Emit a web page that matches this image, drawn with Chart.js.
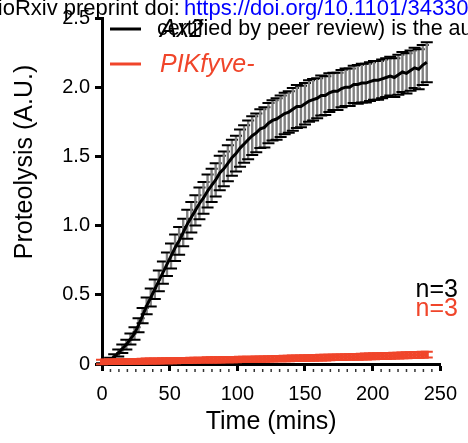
<!DOCTYPE html>
<html>
<head>
    <title>Proteolysis</title>
    <script src="https://cdn.jsdelivr.net/npm/chart.js"></script>
    <style>
        body {margin: 0; overflow: hidden; background: #fff;}
        #wrap {position: relative; width: 468px; height: 443px; overflow: hidden;}
        #chart {position: absolute; left: 0; top: 0;}
        .stamp {position: absolute; white-space: nowrap; font-family: "Liberation Sans", Arial, sans-serif; line-height: 20px; color: #000;}
        .stamp a {color: #0000ff; text-decoration: none;}
    </style>
</head>
<body>
<div id="wrap">
    <canvas id="chart" width="468" height="443"></canvas>
    <div class="stamp" style="right:288px; top:-2px; font-size:22px;">bioRxiv preprint doi:</div>
    <div class="stamp" style="left:184px; top:-2px; font-size:22px;"><a>https://doi.org/10.1101/343301</a></div>
    <div class="stamp" style="left:157px; top:18px; font-size:21.5px;">certified by peer review) is the author/funder</div>
</div>

<script>
    // time points (mins)
    var times = [0, 3, 6, 9, 12, 15, 18, 21, 24, 27, 30, 33, 36, 39, 42, 45, 48, 51, 54, 57,
        60, 63, 66, 69, 72, 75, 78, 81, 84, 87, 90, 93, 96, 99, 102, 105, 108, 111, 114, 117,
        120, 123, 126, 129, 132, 135, 138, 141, 144, 147, 150, 153, 156, 159, 162, 165, 168, 171, 174, 177,
        180, 183, 186, 189, 192, 195, 198, 201, 204, 207, 210, 213, 216, 219, 222, 225, 228, 231, 234, 237, 240];

    // Ax2 mean and SEM
    var ax2Mean = [0.00, 0.01, 0.03, 0.05, 0.08, 0.11, 0.14, 0.18, 0.22, 0.28, 0.35, 0.42, 0.48, 0.54, 0.60, 0.66, 0.72, 0.78, 0.84, 0.89,
        0.95, 1.01, 1.06, 1.11, 1.16, 1.20, 1.25, 1.29, 1.33, 1.38, 1.41, 1.45, 1.49, 1.52, 1.56, 1.59, 1.62, 1.65, 1.67, 1.70,
        1.71, 1.74, 1.76, 1.77, 1.79, 1.81, 1.82, 1.84, 1.86, 1.86, 1.88, 1.90, 1.91, 1.92, 1.94, 1.94, 1.96, 1.97, 1.97, 1.99,
        2.00, 2.00, 2.02, 2.02, 2.03, 2.03, 2.04, 2.05, 2.05, 2.06, 2.07, 2.08, 2.07, 2.09, 2.11, 2.10, 2.12, 2.14, 2.13, 2.16, 2.18];
    var ax2Err = [0.005, 0.01, 0.015, 0.02, 0.025, 0.03, 0.035, 0.04, 0.045, 0.05, 0.055, 0.06, 0.065, 0.07, 0.075, 0.08, 0.085, 0.09, 0.095, 0.10,
        0.10, 0.105, 0.11, 0.11, 0.115, 0.115, 0.12, 0.12, 0.12, 0.125, 0.125, 0.13, 0.13, 0.13, 0.135, 0.135, 0.14, 0.14, 0.14, 0.14,
        0.145, 0.145, 0.145, 0.15, 0.15, 0.15, 0.15, 0.155, 0.155, 0.15, 0.15, 0.15, 0.15, 0.145, 0.145, 0.14, 0.14, 0.135, 0.135, 0.135,
        0.135, 0.135, 0.135, 0.14, 0.14, 0.14, 0.14, 0.14, 0.14, 0.14, 0.14, 0.14, 0.14, 0.145, 0.145, 0.145, 0.145, 0.145, 0.145, 0.145, 0.145];

    // PIKfyve- mean and SEM
    var pikMean = [0.015, 0.016, 0.016, 0.017, 0.017, 0.018, 0.018, 0.019, 0.019, 0.020, 0.020, 0.021, 0.021, 0.022, 0.022, 0.023, 0.023, 0.024, 0.024, 0.025,
        0.026, 0.026, 0.027, 0.027, 0.028, 0.028, 0.029, 0.029, 0.030, 0.030, 0.031, 0.031, 0.032, 0.032, 0.033, 0.033, 0.034, 0.034, 0.035, 0.035,
        0.036, 0.037, 0.037, 0.038, 0.039, 0.039, 0.040, 0.041, 0.041, 0.042, 0.043, 0.044, 0.044, 0.045, 0.046, 0.046, 0.047, 0.048, 0.049, 0.049,
        0.050, 0.051, 0.052, 0.052, 0.053, 0.054, 0.055, 0.056, 0.057, 0.057, 0.058, 0.059, 0.060, 0.061, 0.062, 0.063, 0.064, 0.065, 0.066, 0.067, 0.068];
    var pikErr = [0.016, 0.016, 0.016, 0.016, 0.017, 0.017, 0.017, 0.017, 0.017, 0.017, 0.018, 0.018, 0.018, 0.018, 0.018, 0.018, 0.018, 0.018, 0.018, 0.018,
        0.018, 0.018, 0.018, 0.018, 0.018, 0.018, 0.019, 0.019, 0.019, 0.019, 0.019, 0.019, 0.019, 0.019, 0.019, 0.019, 0.019, 0.019, 0.019, 0.019,
        0.019, 0.019, 0.019, 0.019, 0.019, 0.020, 0.020, 0.020, 0.020, 0.020, 0.020, 0.020, 0.020, 0.020, 0.020, 0.020, 0.020, 0.020, 0.020, 0.020,
        0.020, 0.020, 0.020, 0.021, 0.021, 0.021, 0.021, 0.021, 0.021, 0.021, 0.021, 0.021, 0.021, 0.021, 0.021, 0.021, 0.021, 0.021, 0.021, 0.021, 0.021];

    var seriesNames = ['Ax2', 'PIKfyve-'];
    var seriesColors = ['#000000', '#f0452a'];
    var nLabels = ['n=3', 'n=3'];

    var FONT = '"Liberation Sans", Arial, sans-serif';

    function points(ys) {
        return times.map(function(t, i) { return {x: t, y: ys[i]}; });
    }

    // SEM bars under each line
    var errorBars = {
        id: 'errorBars',
        beforeDatasetDraw: function(chart, args) {
            var ds = chart.data.datasets[args.index];
            if (!ds.errors) return;
            var xs = chart.scales.x, ys = chart.scales.y, ctx = chart.ctx;
            ctx.save();
            ds.data.forEach(function(p, i) {
                var px = xs.getPixelForValue(p.x);
                var top = ys.getPixelForValue(p.y + ds.errors[i]);
                var bot = ys.getPixelForValue(p.y - ds.errors[i]);
                ctx.lineWidth = ds.barWidth;
                ctx.strokeStyle = ds.barColor;
                ctx.beginPath(); ctx.moveTo(px, top); ctx.lineTo(px, bot); ctx.stroke();
                ctx.lineWidth = 2;
                ctx.strokeStyle = ds.borderColor;
                ctx.beginPath();
                ctx.moveTo(px - 6, top); ctx.lineTo(px + 6, top);
                ctx.moveTo(px - 6, bot); ctx.lineTo(px + 6, bot);
                ctx.stroke();
            });
            ctx.restore();
        }
    };

    // titles, legend, n labels, minor ticks
    var extras = {
        id: 'extras',
        afterDraw: function(chart) {
            var ctx = chart.ctx, a = chart.chartArea, xs = chart.scales.x;
            ctx.save();
            ctx.fillStyle = '#000';
            ctx.font = '25px ' + FONT;
            ctx.textAlign = 'center';
            ctx.textBaseline = 'alphabetic';
            ctx.fillText('Time (mins)', (a.left + a.right) / 2, 429);
            ctx.save();
            ctx.translate(32, 162);
            ctx.rotate(-Math.PI / 2);
            ctx.fillText('Proteolysis (A.U.)', 0, 0);
            ctx.restore();

            // minor ticks
            ctx.strokeStyle = '#333';
            ctx.lineWidth = 1.5;
            for (var v = 6.25; v < 250; v += 6.25) {
                if (v % 50 === 0) continue;
                var px = xs.getPixelForValue(v);
                ctx.beginPath(); ctx.moveTo(px, a.bottom + 5); ctx.lineTo(px, a.bottom + 8); ctx.stroke();
            }

            // legend
            ctx.textAlign = 'left';
            ctx.textBaseline = 'middle';
            ctx.font = 'italic 25px ' + FONT;
            seriesNames.forEach(function(name, i) {
                var y = 29 + i * 35;
                ctx.strokeStyle = seriesColors[i];
                ctx.lineWidth = 3;
                ctx.beginPath(); ctx.moveTo(110, y); ctx.lineTo(141, y); ctx.stroke();
                ctx.fillStyle = seriesColors[i];
                ctx.fillText(name, 160, y + 1);
            });

            // n labels
            ctx.textAlign = 'right';
            ctx.textBaseline = 'alphabetic';
            ctx.font = '25px ' + FONT;
            nLabels.forEach(function(txt, i) {
                ctx.fillStyle = seriesColors[i];
                ctx.fillText(txt, 458, 297 + i * 19);
            });
            ctx.restore();
        }
    };

    var ctx = document.getElementById('chart').getContext('2d');
    var chart = new Chart(ctx, {
        type: 'line',
        data: {
            datasets: [
                {
                    label: seriesNames[0],
                    data: points(ax2Mean),
                    errors: ax2Err,
                    borderColor: seriesColors[0],
                    barColor: '#808080',
                    barWidth: 2.4,
                    borderWidth: 3,
                    pointRadius: 0,
                    order: 1
                },
                {
                    label: seriesNames[1],
                    data: points(pikMean),
                    errors: pikErr,
                    borderColor: seriesColors[1],
                    barColor: seriesColors[1],
                    barWidth: 4,
                    borderWidth: 3,
                    pointRadius: 0,
                    order: 0
                }
            ]
        },
        options: {
            responsive: false,
            animation: false,
            layout: {padding: {top: 18, right: 20, left: 0, bottom: 0}},
            plugins: {
                legend: {display: false},
                tooltip: {enabled: false}
            },
            scales: {
                x: {
                    type: 'linear',
                    min: 0,
                    max: 250,
                    afterFit: function(s) { s.height = 79; },
                    ticks: {
                        stepSize: 50,
                        color: '#000',
                        padding: 11,
                        font: {family: FONT, size: 20}
                    },
                    grid: {drawOnChartArea: false, tickLength: 7, tickWidth: 3, tickColor: '#000'},
                    border: {color: '#000', width: 3}
                },
                y: {
                    min: 0,
                    max: 2.5,
                    afterFit: function(s) { s.width = 102; },
                    ticks: {
                        stepSize: 0.5,
                        color: '#000',
                        padding: 5,
                        font: {family: FONT, size: 20},
                        callback: function(v) { return v === 0 ? '0' : v.toFixed(1); }
                    },
                    grid: {drawOnChartArea: false, tickLength: 7, tickWidth: 3, tickColor: '#000'},
                    border: {color: '#000', width: 3}
                }
            }
        },
        plugins: [errorBars, extras]
    });
</script>
</body>
</html>
